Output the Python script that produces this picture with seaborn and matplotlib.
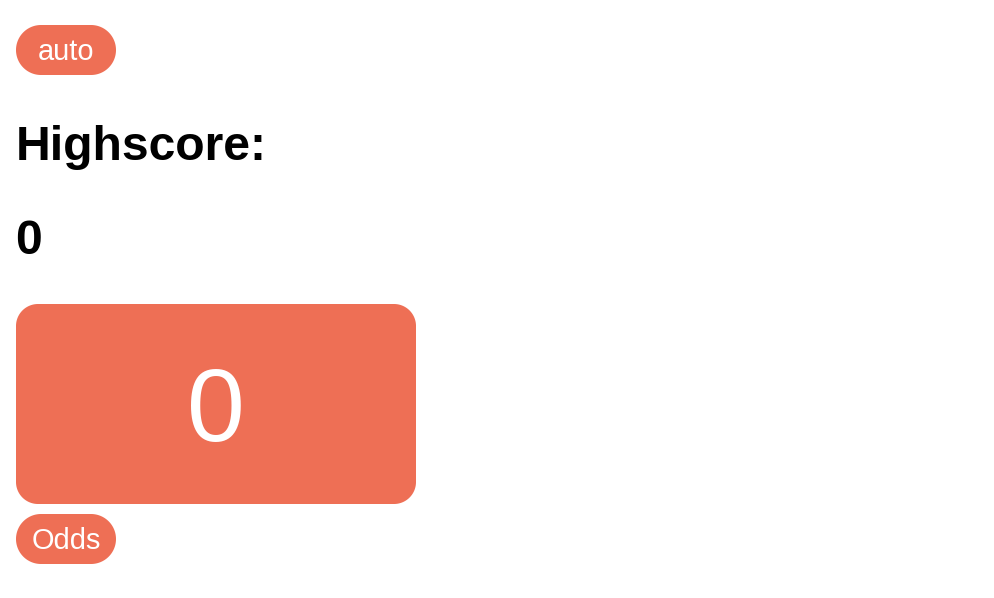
import matplotlib
matplotlib.use("Agg")
import numpy as np
import matplotlib.pyplot as plt
from matplotlib.patches import Polygon
import seaborn as sns

sns.set_theme(style="white")
plt.rcParams['font.family'] = ['Liberation Sans', 'DejaVu Sans']

# page content
mode_label = "auto"
highscore_label = "Highscore:"
highscore_value = 0
current_score = 0
odds_label = "Odds"

coral = "#EE6F55"
W, H = 994, 598
PX = 72 / 100  # px -> pt at dpi 100

fig = plt.figure(figsize=(W / 100, H / 100), dpi=100)
ax = fig.add_axes([0, 0, 1, 1])
ax.set_xlim(0, W)
ax.set_ylim(H, 0)
ax.set_axis_off()


def box(x, y, w, h, r):
    # rounded rectangle with true circular corners
    t = np.linspace(0, np.pi / 2, 30)
    pts = []
    for cx, cy, a0 in [(x + w - r, y + r, -np.pi / 2), (x + w - r, y + h - r, 0),
                       (x + r, y + h - r, np.pi / 2), (x + r, y + r, np.pi)]:
        pts += list(zip(cx + r * np.cos(a0 + t), cy + r * np.sin(a0 + t)))
    ax.add_patch(Polygon(pts, closed=True, fc=coral, ec="none"))


# "auto" pill
box(16, 25, 100, 50, 25)
ax.text(66, 60, mode_label, color="white", fontsize=29 * PX,
        ha="center", va="baseline")

# highscore
ax.text(16, 160, highscore_label, color="black", fontsize=48 * PX,
        fontweight="bold", ha="left", va="baseline")
ax.text(15, 254, str(highscore_value), color="black", fontsize=48 * PX,
        fontweight="bold", ha="left", va="baseline")

# score box
box(16, 304, 400, 200, 22)
ax.text(216, 441, str(current_score), color="white", fontsize=104 * PX,
        ha="center", va="baseline")

# "Odds" pill
box(16, 514, 100, 50, 25)
ax.text(66, 549, odds_label, color="white", fontsize=29 * PX,
        ha="center", va="baseline")

fig.savefig("out.png", dpi=100, facecolor="white")
